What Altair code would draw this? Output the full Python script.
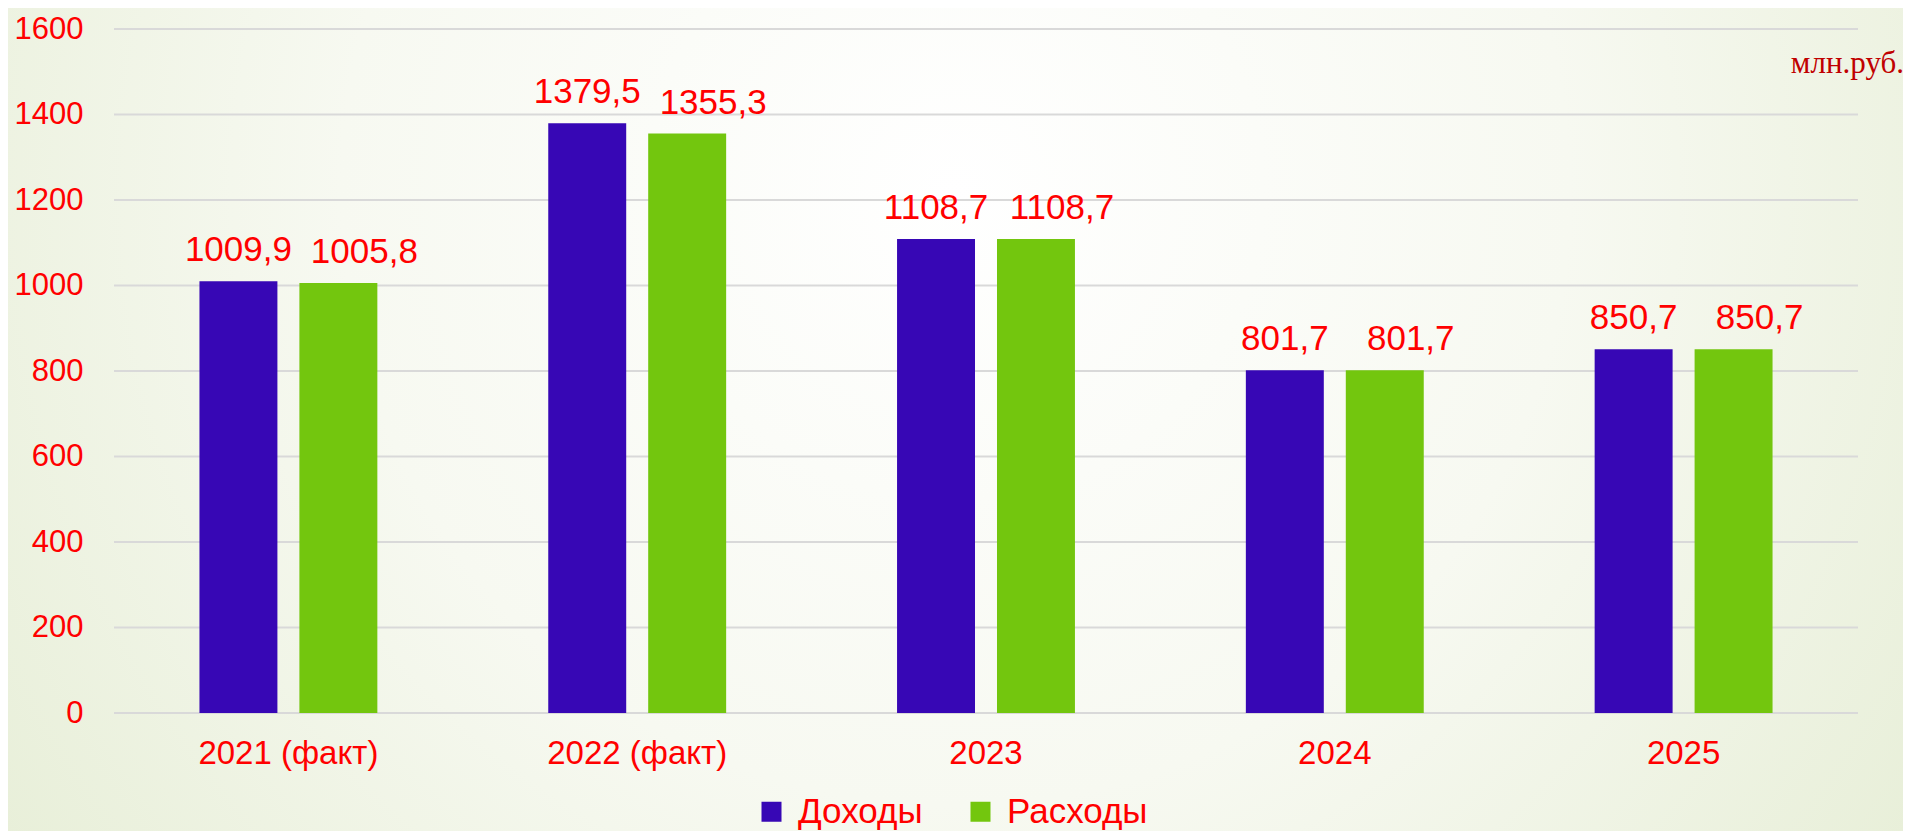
import altair as alt
import pandas as pd

years = ["2021 (факт)", "2022 (факт)", "2023", "2024", "2025"]
income = [1009.9, 1379.5, 1108.7, 801.7, 850.7]
expense = [1005.8, 1355.3, 1108.7, 801.7, 850.7]
series = ["Доходы", "Расходы"]
colors = ["#3707b5", "#73c60e"]
y_ticks = [0, 200, 400, 600, 800, 1000, 1200, 1400, 1600]

rows = []
for i, y in enumerate(years):
    rows.append({"year": y, "series": series[0], "value": income[i]})
    rows.append({"year": y, "series": series[1], "value": expense[i]})
df = pd.DataFrame(rows)
df["label"] = df["value"].map(lambda v: f"{v:.1f}".replace(".", ","))
grid_df = pd.DataFrame({"value": y_ticks})

FONT = "Liberation Sans"
RED = "#ff0000"

x = alt.X("year:N", sort=years, title=None,
          scale=alt.Scale(paddingInner=0, paddingOuter=0),
          axis=alt.Axis(labelAngle=0, labelFontSize=33, labelColor=RED, labelFont=FONT,
                        labelPadding=24, labelLimit=0, ticks=False, domain=False,
                        grid=False, zindex=1))
xo = alt.XOffset("series:N", sort=series,
                 scale=alt.Scale(paddingInner=0.22, paddingOuter=0.855))
yscale = alt.Scale(domain=[0, 1600], nice=False)
yaxis = alt.Axis(values=y_ticks, format="d", labelFontSize=31, labelColor=RED,
                 labelFont=FONT, labelPadding=31, ticks=False, domain=False,
                 grid=False, zindex=1)
y = alt.Y("value:Q", title=None, scale=yscale, axis=yaxis)

gradient = {
    "gradient": "radial",
    "x1": 0.5, "y1": 0.38, "r1": 0.0,
    "x2": 0.5, "y2": 0.38, "r2": 0.72,
    "stops": [
        {"offset": 0.0, "color": "#ffffff"},
        {"offset": 0.45, "color": "#f7f9f1"},
        {"offset": 1.0, "color": "#e2ebcf"},
    ],
}
bg = alt.Chart(pd.DataFrame({"a": [0]})).mark_rect(color=gradient).encode(
    x=alt.value(-106), x2=alt.value(1789), y=alt.value(-21), y2=alt.value(802))

grid = alt.Chart(grid_df).mark_rule(color="#d9d9d9", strokeWidth=2).encode(
    y=alt.Y("value:Q", title=None, scale=yscale, axis=yaxis))

bars = alt.Chart(df).mark_bar().encode(
    x=x, xOffset=xo, y=y,
    color=alt.Color("series:N", sort=series,
                    scale=alt.Scale(domain=series, range=colors),
                    legend=alt.Legend(title=None, orient="none", direction="horizontal",
                                      legendX=640, legendY=765,
                                      symbolType="square", symbolSize=400,
                                      symbolStrokeWidth=0,
                                      labelFontSize=35, labelColor=RED, labelFont=FONT,
                                      labelOffset=9, columnPadding=40)),
)

labels_in = alt.Chart(df).transform_filter(alt.datum.series == series[0]).mark_text(
    fontSize=35, font=FONT, color=RED, dy=-20, baseline="alphabetic").encode(
    x=x, xOffset=xo, y=y, text="label:N")
labels_out = alt.Chart(df).transform_filter(alt.datum.series == series[1]).mark_text(
    fontSize=35, font=FONT, color=RED, dy=-20, dx=26, baseline="alphabetic").encode(
    x=x, xOffset=xo, y=y, text="label:N")

unit = alt.Chart(pd.DataFrame({"t": ["млн.руб."]})).mark_text(
    font="Liberation Serif", fontSize=31, color="#c00000", align="right",
    baseline="alphabetic").encode(
    text="t:N", x=alt.value(1790), y=alt.value(44))

chart = alt.layer(bg, grid, bars, labels_in, labels_out, unit).properties(
    width=1744, height=684,
    autosize=alt.AutoSizeParams(type="none"),
    padding={"left": 106, "top": 21, "right": 45, "bottom": 118},
    background="#eef3e4",
).configure_view(stroke=None)

chart.save("out.html", embed_options={"renderer": "svg", "actions": False})
